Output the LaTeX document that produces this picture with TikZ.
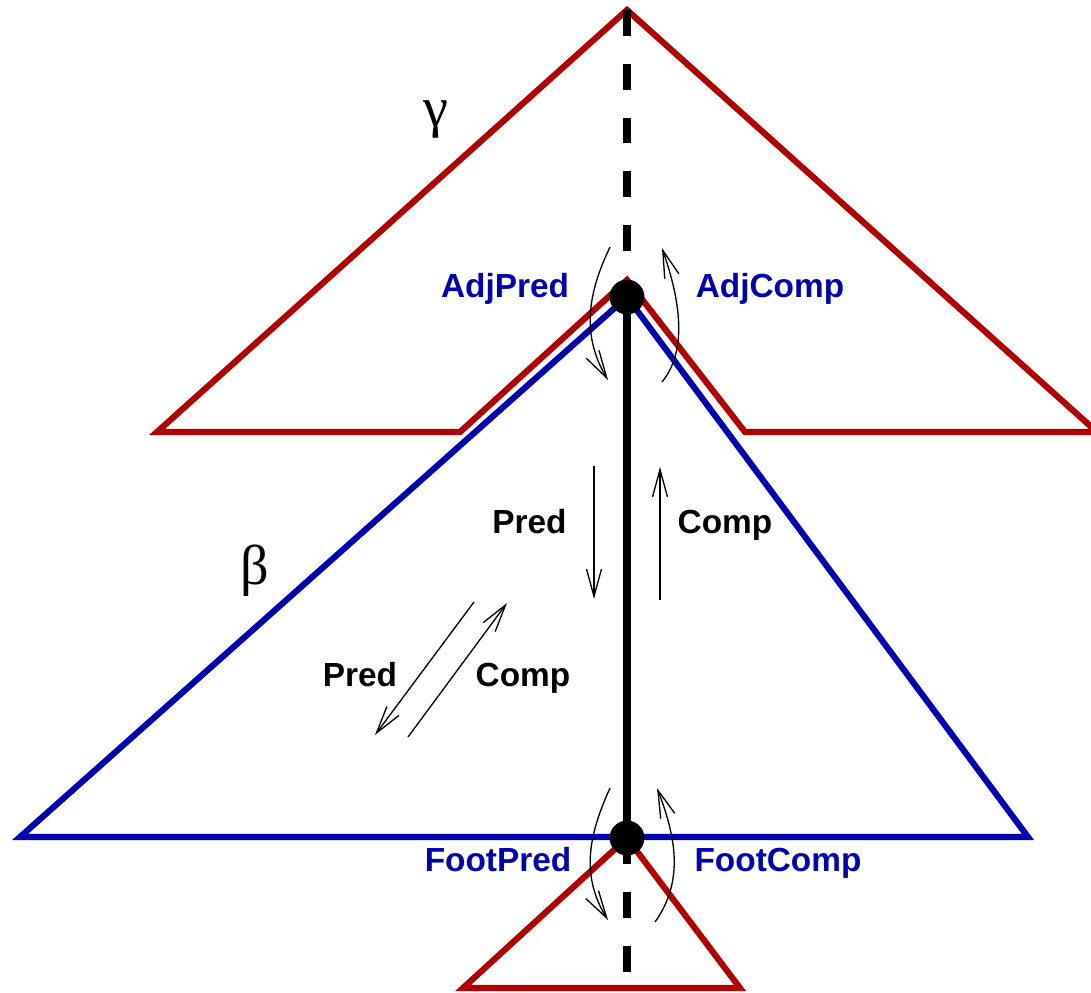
\documentclass[tikz,border=0pt]{standalone}
\usepackage{fontspec}
\setmainfont{Liberation Sans}
\newfontfamily\grk{Liberation Serif}
\usetikzlibrary{arrows.meta}
\definecolor{tred}{RGB}{178,0,0}
\definecolor{tblue}{RGB}{0,0,178}
\begin{document}
\begin{tikzpicture}[x=0.02cm,y=-0.02cm,
  redline/.style={draw=tred,line width=3.5pt,line join=miter},
  blueline/.style={draw=tblue,line width=3.5pt,line join=miter},
  spine/.style={draw=black,line width=4pt},
  spinedash/.style={draw=black,line width=4pt,dash pattern=on 26*0.567pt off 28*0.567pt},
  dot/.style={circle,fill=black,minimum size=35*0.567pt,inner sep=0pt},
  thinarrow/.style={draw=black,line width=0.75pt,-{Straight Barb[length=0.55cm,width=0.3cm]}},
  bluelab/.style={text=tblue,font=\fontsize{19}{22}\selectfont\bfseries,anchor=base,inner sep=0pt},
  blacklab/.style={text=black,font=\fontsize{19}{22}\selectfont\bfseries,anchor=base,inner sep=0pt},
  greek/.style={font=\fontsize{32}{36}\selectfont\grk,inner sep=0pt}]
\useasboundingbox (0,0) rectangle (1091,993);
\clip (0,0) rectangle (1091,993);
% corners
\coordinate (gtop) at (627,10);
\coordinate (gl) at (157,432);
\coordinate (gr) at (1097,432);
\coordinate (gnr) at (745,432);
\coordinate (gna) at (627,280);
\coordinate (gnl) at (460,432);
\coordinate (btop) at (627,297);
\coordinate (bl) at (20,837);
\coordinate (br) at (1028,837);
\coordinate (ftop) at (627,838);
\coordinate (fl) at (463,988);
\coordinate (fr) at (740,988);
% triangles
\draw[redline] (gl) -- (gtop) -- (gr) -- (gnr) -- (gna) -- (gnl) -- cycle;
\draw[blueline] (bl) -- (btop) -- (br) -- cycle;
\draw[redline] (fl) -- (ftop) -- (fr) -- cycle;
% spine
\coordinate (dtopend) at (627,262);
\coordinate (dbotend) at (627,976);
\draw[spinedash] (gtop) -- (dtopend);
\draw[spine] (btop) -- (ftop);
\draw[spinedash] (ftop) -- (dbotend);
\node[dot] (adj) at (btop) {};
\node[dot] (foot) at (ftop) {};
% curved arrows top
\coordinate (a1s) at (610,247); \coordinate (a1e) at (608,380);
\coordinate (a2s) at (662,382); \coordinate (a2e) at (662,248);
\draw[thinarrow] (a1s) .. controls (592,285) and (578,330) .. (a1e);
\draw[thinarrow] (a2s) .. controls (688,350) and (680,300) .. (a2e);
% curved arrows bottom
\coordinate (a3s) at (610,788); \coordinate (a3e) at (608,920);
\coordinate (a4s) at (655,922); \coordinate (a4e) at (657,788);
\draw[thinarrow] (a3s) .. controls (592,828) and (578,872) .. (a3e);
\draw[thinarrow] (a4s) .. controls (685,880) and (675,835) .. (a4e);
% straight arrows
\coordinate (p1s) at (594,466); \coordinate (p1e) at (594,599);
\coordinate (c1s) at (660,600); \coordinate (c1e) at (660,467);
\coordinate (p2s) at (474,602); \coordinate (p2e) at (375,735);
\coordinate (c2s) at (408,737); \coordinate (c2e) at (507,603);
\draw[thinarrow] (p1s) -- (p1e);
\draw[thinarrow] (c1s) -- (c1e);
\draw[thinarrow] (p2s) -- (p2e);
\draw[thinarrow] (c2s) -- (c2e);
% labels
\node[bluelab] (adjpred) at (505,297) {AdjPred};
\node[bluelab] (adjcomp) at (770,297) {AdjComp};
\node[bluelab] (footpred) at (498,871) {FootPred};
\node[bluelab] (footcomp) at (778,871) {FootComp};
\node[blacklab] (pred1) at (529.5,533) {Pred};
\node[blacklab] (comp1) at (725,533) {Comp};
\node[blacklab] (pred2) at (360,686) {Pred};
\node[blacklab] (comp2) at (523,686) {Comp};
\node[greek] (gamma) at (436,120) {γ};
\node[greek] (beta) at (255,571) {β};
\end{tikzpicture}
\end{document}
